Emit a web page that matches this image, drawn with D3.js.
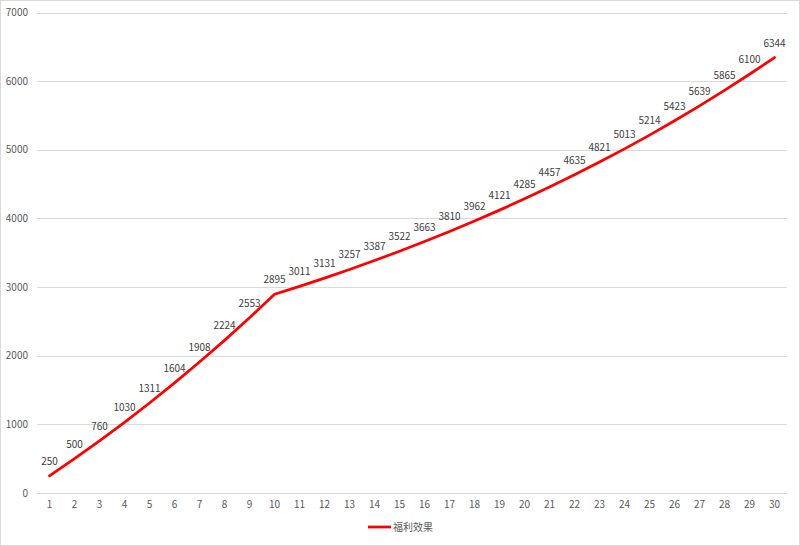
<!DOCTYPE html>
<html><head><meta charset="utf-8">
<script src="https://cdn.jsdelivr.net/npm/d3@7"></script>
<style>
html,body{margin:0;padding:0;background:#fff;}
svg{display:block;}
</style></head>
<body>
<svg id="chart" width="800" height="546"></svg>
<script>
const categories = ["1","2","3","4","5","6","7","8","9","10","11","12","13","14","15","16","17","18","19","20","21","22","23","24","25","26","27","28","29","30"];
const values = [250,500,760,1030,1311,1604,1908,2224,2553,2895,3011,3131,3257,3387,3522,3663,3810,3962,4121,4285,4457,4635,4821,5013,5214,5423,5639,5865,6100,6344];
const yTicks = [0,1000,2000,3000,4000,5000,6000,7000];
const seriesName = "福利效果";

(function(){
const W = 800, H = 546;
const svg = d3.select("#chart");
const font = "'Noto Sans CJK SC','Liberation Sans',sans-serif";

svg.append("rect").attr("x",0.5).attr("y",0.5).attr("width",W-1).attr("height",H-1)
  .attr("fill","#fff").attr("stroke","#d9d9d9");

const pLeft = 37, pRight = 787, pTop = 12.5, pBottom = 493;
const x = d3.scaleBand().domain(categories).range([pLeft,pRight]);
const y = d3.scaleLinear().domain([0,7000]).range([pBottom,pTop]);

svg.append("g").selectAll("line").data(yTicks).join("line")
  .attr("x1",pLeft).attr("x2",pRight)
  .attr("y1",d=>Math.round(y(d))+0.5).attr("y2",d=>Math.round(y(d))+0.5)
  .attr("stroke","#d9d9d9").attr("stroke-width",1);

const yAxis = d3.axisLeft(y).tickValues(yTicks).tickFormat(d3.format("d")).tickSize(0).tickPadding(9);
const gy = svg.append("g").attr("transform",`translate(${pLeft},0)`).call(yAxis);
gy.select(".domain").remove();
gy.selectAll("text").attr("font-family",font).attr("font-size","10px").attr("fill","#595959");

const xAxis = d3.axisBottom(x).tickSize(0).tickPadding(8);
const gx = svg.append("g").attr("transform",`translate(0,${pBottom})`).call(xAxis);
gx.select(".domain").remove();
gx.selectAll("text").attr("font-family",font).attr("font-size","10px").attr("fill","#595959");

const line = d3.line().x((d,i)=>x(categories[i])+x.bandwidth()/2).y(d=>y(d));
svg.append("path").datum(values).attr("d",line)
  .attr("fill","none").attr("stroke","#ff0000").attr("stroke-width",2.75)
  .attr("stroke-linejoin","round").attr("stroke-linecap","round");

svg.append("g").selectAll("text").data(values).join("text")
  .attr("x",(d,i)=>x(categories[i])+x.bandwidth()/2)
  .attr("y",d=>y(d)-11)
  .attr("text-anchor","middle")
  .attr("font-family",font).attr("font-size","10px").attr("fill","#404040")
  .text(d=>d);

const lg = svg.append("g").attr("transform","translate(368,527)");
lg.append("line").attr("x1",0).attr("x2",23).attr("y1",0).attr("y2",0)
  .attr("stroke","#ff0000").attr("stroke-width",2.75);
lg.append("text").attr("x",25).attr("y",3.5).attr("font-family",font)
  .attr("font-size","10px").attr("fill","#595959").text(seriesName);
})();
</script>
</body></html>
